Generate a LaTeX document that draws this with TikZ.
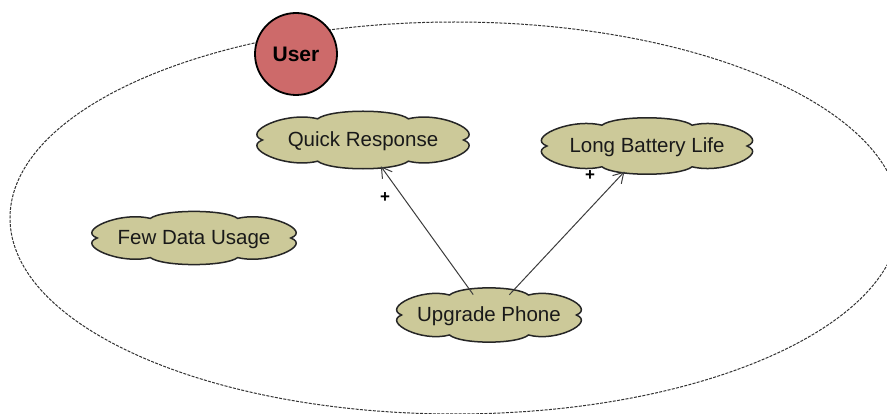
\documentclass[tikz,border=0pt]{standalone}
\usepackage{fontspec}
\setmainfont{Liberation Sans}
\usetikzlibrary{shapes.geometric,arrows.meta}
\definecolor{cloudfill}{RGB}{204,201,153}
\definecolor{userfill}{RGB}{205,106,106}
\definecolor{lineg}{RGB}{60,60,60}
\tikzset{
  cloudline/.style={draw=black!85, line width=1.5pt, fill=cloudfill},
  cloudnode/.style={ellipse, inner sep=0pt, font=\fontsize{20.5}{24}\selectfont, text=black!90},
  link/.style={draw=lineg, line width=1pt, -{Straight Barb[length=10pt,width=12pt]}},
  plusmark/.style={font=\bfseries\fontsize{17}{19}\selectfont, inner sep=0pt}
}
\newcommand{\puffcloud}[3]{%
  \path[cloudline, shift={(#1)}, xscale=#2, yscale=#3]
    (-0.93,0) .. controls (-1.13,0.3) and (-0.72,1.1) .. (-0.42,0.8)
    .. controls (-0.3,1.18) and (0.3,1.18) .. (0.42,0.8)
    .. controls (0.72,1.1) and (1.13,0.3) .. (0.93,0)
    .. controls (1.13,-0.3) and (0.72,-1.1) .. (0.42,-0.8)
    .. controls (0.3,-1.18) and (-0.3,-1.18) .. (-0.42,-0.8)
    .. controls (-0.72,-1.1) and (-1.13,-0.3) .. (-0.93,0) -- cycle;}
\begin{document}
\begin{tikzpicture}[x=1pt,y=-1pt]
\useasboundingbox (0,0) rectangle (887,414);
\begin{scope}
\clip (0,0) rectangle (887,414);
\draw[draw=black!80, line width=1pt, dash pattern=on 3pt off 1.3pt] (455,218) ellipse [x radius=445, y radius=196];
\end{scope}
\node[circle, draw=black, line width=1.8pt, fill=userfill, minimum size=82pt, inner sep=0pt, font=\bfseries\fontsize{21}{24}\selectfont] (user) at (296,54) {User};
\coordinate (qrc) at (363,140);
\coordinate (lbc) at (647,146);
\coordinate (fdc) at (194,238);
\coordinate (upc) at (489,315);
\puffcloud{qrc}{108}{26.5}
\puffcloud{lbc}{107.5}{26}
\puffcloud{fdc}{104}{24.5}
\puffcloud{upc}{94}{25}
\node[cloudnode, minimum width=216pt, minimum height=50pt] (qr) at ([yshift=-1.5pt]qrc) {Quick Response};
\node[cloudnode, minimum width=215pt, minimum height=49pt] (lb) at ([yshift=-1.5pt]lbc) {Long Battery Life};
\node[cloudnode, minimum width=208pt, minimum height=49pt] (fd) at ([yshift=-1.5pt]fdc) {Few Data Usage};
\node[cloudnode, minimum width=188pt, minimum height=44pt] (up) at ([yshift=-1.5pt]upc) {Upgrade Phone};
\draw[link] (up) -- (qr);
\draw[link] (up) -- (lb);
\node[plusmark] (p1) at (385,198) {+};
\node[plusmark] (p2) at (590,176) {+};
\end{tikzpicture}
\end{document}
